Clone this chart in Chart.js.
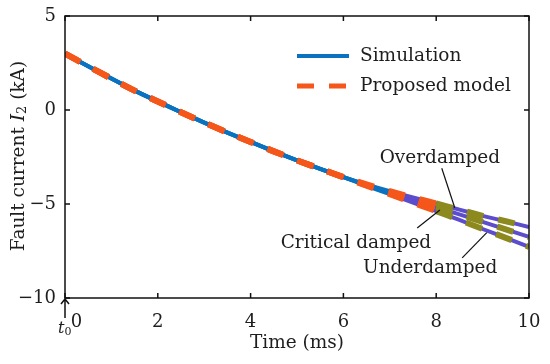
<!DOCTYPE html>
<html>
<head>
<meta charset="utf-8">
<script src="https://cdn.jsdelivr.net/npm/chart.js@4"></script>
<style>
  html, body { margin: 0; padding: 0; background: #fff; }
  #wrap { width: 550px; height: 364px; position: relative; }
</style>
</head>
<body>
<div id="wrap"><canvas id="faultChart"></canvas></div>
<script>
// ----------------------------
// Data (time in ms, current in kA)
// ----------------------------
const timeMs = [0, 0.5, 1, 1.5, 2, 2.5, 3, 3.5, 4, 4.5, 5, 5.5, 6, 6.5, 7, 7.5, 8, 8.5, 9, 9.5, 10];

const simOverdamped  = [3.00, 2.33, 1.67, 1.03, 0.45, -0.12, -0.67, -1.20, -1.70, -2.20, -2.68, -3.13, -3.57, -3.96, -4.32, -4.65, -4.97, -5.30, -5.63, -5.92, -6.22];
const simCritical    = [3.00, 2.33, 1.67, 1.03, 0.45, -0.12, -0.67, -1.20, -1.70, -2.20, -2.68, -3.13, -3.57, -4.00, -4.40, -4.79, -5.17, -5.55, -5.95, -6.35, -6.75];
const simUnderdamped = [3.00, 2.33, 1.67, 1.03, 0.45, -0.12, -0.67, -1.20, -1.70, -2.20, -2.68, -3.13, -3.57, -4.03, -4.48, -4.93, -5.38, -5.85, -6.33, -6.80, -7.28];

const modelOverdamped  = [3.00, 2.33, 1.67, 1.03, 0.45, -0.12, -0.67, -1.20, -1.70, -2.20, -2.68, -3.13, -3.57, -3.96, -4.32, -4.65, -4.97, -5.30, -5.63, -5.92, -6.22];
const modelCritical    = [3.00, 2.33, 1.67, 1.03, 0.45, -0.12, -0.67, -1.20, -1.70, -2.20, -2.68, -3.13, -3.57, -4.00, -4.40, -4.79, -5.17, -5.55, -5.95, -6.35, -6.75];
const modelUnderdamped = [3.00, 2.33, 1.67, 1.03, 0.45, -0.12, -0.67, -1.20, -1.70, -2.20, -2.68, -3.13, -3.57, -4.03, -4.48, -4.93, -5.38, -5.85, -6.33, -6.80, -7.28];

const seriesNames = ["Simulation", "Proposed model"];
const caseNames = ["Overdamped", "Critical damped", "Underdamped"];
const xTicks = [0, 2, 4, 6, 8, 10];
const yTicks = [-10, -5, 0, 5];

// ----------------------------
// Styling
// ----------------------------
const FONT = "'DejaVu Serif', 'Liberation Serif', serif";
const TXT = "#1e1e1e";
const simBlue = "#0a72bf";
const simTail = "#5b4dcc";
const modelOrange = "#f5561a";
const modelOlive = "#8c8a1e";
const DASH = [17, 15];

function pts(ys) {
  return timeMs.map((t, i) => ({ x: t, y: ys[i] }));
}

function simSet(label, ys, order) {
  return {
    label: label,
    data: pts(ys),
    borderColor: simBlue,
    borderWidth: 4,
    pointRadius: 0,
    tension: 0.2,
    order: order,
    segment: { borderColor: (c) => (c.p0.parsed.x >= 7 ? simTail : simBlue) },
  };
}

function modelSet(label, ys, order) {
  return {
    label: label,
    data: pts(ys),
    borderColor: modelOrange,
    borderWidth: 6,
    borderDash: DASH,
    borderCapStyle: "butt",
    pointRadius: 0,
    tension: 0.2,
    order: order,
    segment: { borderColor: (c) => (c.p0.parsed.x >= 8 ? modelOlive : modelOrange) },
  };
}

function fmtNum(v) {
  return v < 0 ? "\u2212" + Math.abs(v) : String(v);
}

// ----------------------------
// Frame, inward ticks, legend, notes, y title, t0 marker
// ----------------------------
const decor = {
  id: "decor",
  afterDraw(chart) {
    const { ctx, chartArea: a, scales } = chart;
    const xs = scales.x, ys = scales.y;
    ctx.save();

    // box
    ctx.strokeStyle = "#111";
    ctx.lineWidth = 1.5;
    ctx.strokeRect(a.left, a.top, a.right - a.left, a.bottom - a.top);

    // inward ticks on all four sides
    const tl = 5;
    ctx.beginPath();
    xTicks.forEach((v) => {
      const px = xs.getPixelForValue(v);
      ctx.moveTo(px, a.bottom); ctx.lineTo(px, a.bottom - tl);
      ctx.moveTo(px, a.top); ctx.lineTo(px, a.top + tl);
    });
    yTicks.forEach((v) => {
      const py = ys.getPixelForValue(v);
      ctx.moveTo(a.left, py); ctx.lineTo(a.left + tl, py);
      ctx.moveTo(a.right, py); ctx.lineTo(a.right - tl, py);
    });
    ctx.stroke();

    // legend
    const lx = a.right - 232, ly = a.top + 40;
    ctx.font = "18.5px " + FONT;
    ctx.fillStyle = TXT;
    ctx.textBaseline = "middle";
    ctx.textAlign = "left";
    ctx.strokeStyle = simBlue;
    ctx.lineWidth = 4;
    ctx.beginPath();
    ctx.moveTo(lx, ly); ctx.lineTo(lx + 52, ly);
    ctx.stroke();
    ctx.fillText(seriesNames[0], lx + 63, ly);
    ctx.strokeStyle = modelOrange;
    ctx.lineWidth = 5;
    ctx.setLineDash(DASH);
    ctx.beginPath();
    ctx.moveTo(lx, ly + 30); ctx.lineTo(lx + 52, ly + 30);
    ctx.stroke();
    ctx.setLineDash([]);
    ctx.fillText(seriesNames[1], lx + 63, ly + 30);

    // case notes with leader lines (positions in data units)
    const notes = [
      { text: caseNames[0], at: [8.08, -2.55], from: [8.12, -3.1], to: [8.4, -5.2] },
      { text: caseNames[1], at: [6.27, -7.07], from: [7.59, -6.28], to: [8.08, -5.32] },
      { text: caseNames[2], at: [7.87, -8.4], from: [8.56, -7.87], to: [9.09, -6.52] },
    ];
    ctx.textAlign = "center";
    ctx.strokeStyle = "#111";
    ctx.lineWidth = 1.2;
    notes.forEach((n) => {
      ctx.fillText(n.text, xs.getPixelForValue(n.at[0]), ys.getPixelForValue(n.at[1]));
      ctx.beginPath();
      ctx.moveTo(xs.getPixelForValue(n.from[0]), ys.getPixelForValue(n.from[1]));
      ctx.lineTo(xs.getPixelForValue(n.to[0]), ys.getPixelForValue(n.to[1]));
      ctx.stroke();
    });

    // y title: Fault current I2 (kA)
    const parts = [
      { s: "Fault current ", f: "18.5px " + FONT, dy: 0 },
      { s: "I", f: "italic 18.5px " + FONT, dy: 0 },
      { s: "2", f: "13px " + FONT, dy: 4 },
      { s: " (kA)", f: "18.5px " + FONT, dy: 0 },
    ];
    let total = 0;
    parts.forEach((p) => { ctx.font = p.f; p.w = ctx.measureText(p.s).width; total += p.w; });
    ctx.translate(19, (a.top + a.bottom) / 2 - 1);
    ctx.rotate(-Math.PI / 2);
    ctx.textAlign = "left";
    let cx = -total / 2;
    parts.forEach((p) => {
      ctx.font = p.f;
      ctx.fillText(p.s, cx, p.dy);
      cx += p.w;
    });
    ctx.setTransform(1, 0, 0, 1, 0, 0);

    // t0 marker under the origin
    const x0 = xs.getPixelForValue(0);
    ctx.strokeStyle = "#111";
    ctx.lineWidth = 1.5;
    ctx.beginPath();
    ctx.moveTo(x0, a.bottom + 20); ctx.lineTo(x0, a.bottom + 1);
    ctx.moveTo(x0 - 4, a.bottom + 6); ctx.lineTo(x0, a.bottom + 1); ctx.lineTo(x0 + 4, a.bottom + 6);
    ctx.stroke();
    ctx.font = "italic 16px " + FONT;
    ctx.textAlign = "left";
    const tw = ctx.measureText("t").width;
    ctx.fillText("t", x0 - 7, a.bottom + 31);
    ctx.font = "11px " + FONT;
    ctx.fillText("0", x0 - 7 + tw, a.bottom + 34);

    ctx.restore();
  },
};

// ----------------------------
// Chart
// ----------------------------
new Chart(document.getElementById("faultChart"), {
  type: "line",
  data: {
    datasets: [
      modelSet(seriesNames[1], modelOverdamped, 1),
      modelSet(seriesNames[1], modelCritical, 2),
      modelSet(seriesNames[1], modelUnderdamped, 3),
      simSet(seriesNames[0], simOverdamped, 4),
      simSet(seriesNames[0], simCritical, 5),
      simSet(seriesNames[0], simUnderdamped, 6),
    ],
  },
  options: {
    responsive: true,
    maintainAspectRatio: false,
    animation: false,
    layout: { padding: { top: 16, right: 21, left: 0, bottom: 0 } },
    plugins: { legend: { display: false }, tooltip: { enabled: false } },
    scales: {
      x: {
        type: "linear",
        min: 0,
        max: 10,
        afterBuildTicks: (s) => { s.ticks = xTicks.map((v) => ({ value: v })); },
        afterFit: (s) => { s.height = 66; },
        grid: { display: false },
        border: { display: false },
        ticks: {
          padding: 6,
          maxRotation: 0,
          color: TXT,
          font: { family: FONT, size: 18 },
          callback: (v) => (v === 0 ? "    0" : fmtNum(v)),
        },
        title: {
          display: true,
          text: "Time (ms)",
          color: TXT,
          font: { family: FONT, size: 18.5 },
          padding: { top: 0, bottom: 10 },
        },
      },
      y: {
        type: "linear",
        min: -10,
        max: 5,
        afterBuildTicks: (s) => { s.ticks = yTicks.map((v) => ({ value: v })); },
        afterFit: (s) => { s.width = 65; },
        grid: { display: false },
        border: { display: false },
        ticks: {
          padding: 1,
          color: TXT,
          font: { family: FONT, size: 18 },
          callback: (v) => fmtNum(v),
        },
      },
    },
  },
  plugins: [decor],
});
</script>
</body>
</html>
